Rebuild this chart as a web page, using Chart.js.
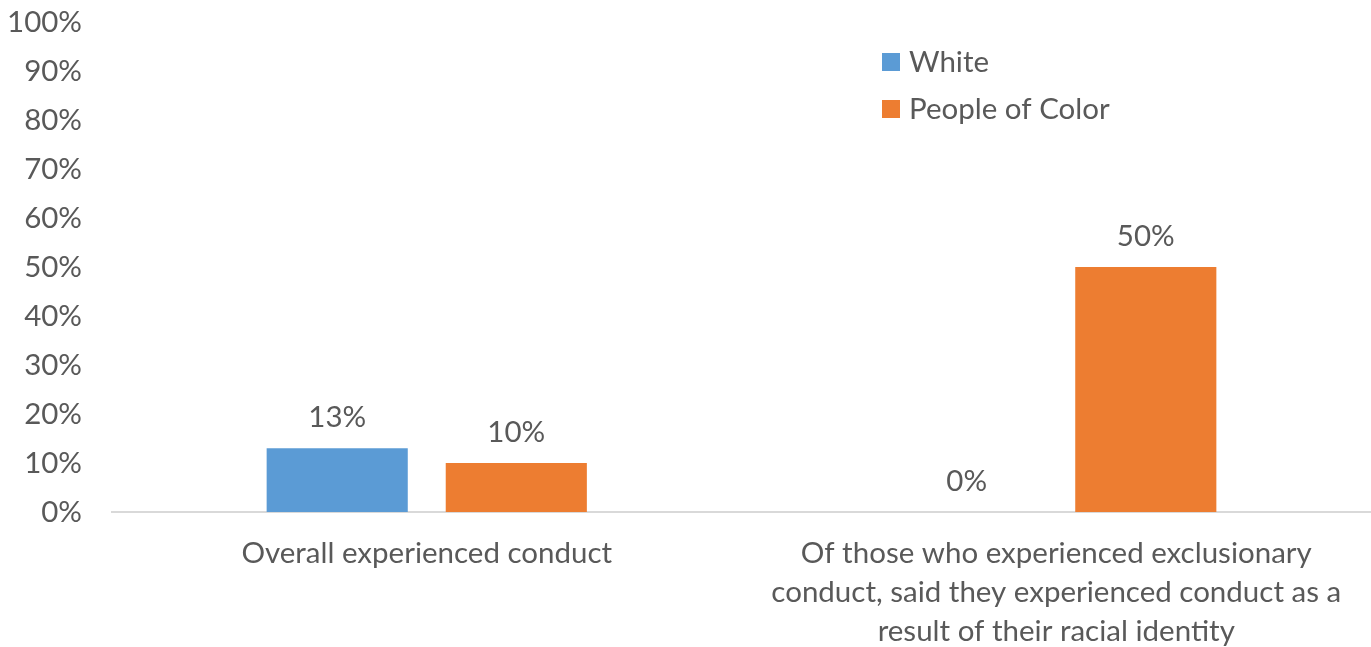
<!DOCTYPE html>
<html>
<head>
<meta charset="utf-8">
<script src="https://cdn.jsdelivr.net/npm/chart.js@4.4.1/dist/chart.umd.min.js"></script>
<style>
  html, body { margin: 0; padding: 0; background: #fff; }
  #wrap { width: 1371px; height: 647px; }
</style>
</head>
<body>
<div id="wrap"><canvas id="chart"></canvas></div>
<script>
const categories = [
    "Overall experienced conduct",
    ["Of those who experienced exclusionary", "conduct, said they experienced conduct as a", "result of their racial identity"]
];
const seriesNames = ["White", "People of Color"];
const whiteValues = [13, 0];
const colorValues = [10, 50];
const seriesColors = ["#5B9BD5", "#ED7D31"];
const yTicks = [0, 10, 20, 30, 40, 50, 60, 70, 80, 90, 100];

const FONT = "Lato, 'Liberation Sans', sans-serif";
const SIZE = 29.5;
const TEXT = "#595959";

// value labels above each bar
const barLabels = {
    id: "barLabels",
    afterDatasetsDraw(chart) {
        const ctx = chart.ctx;
        ctx.save();
        ctx.font = SIZE + "px " + FONT;
        ctx.fillStyle = TEXT;
        ctx.textAlign = "center";
        ctx.textBaseline = "middle";
        chart.data.datasets.forEach((ds, i) => {
            chart.getDatasetMeta(i).data.forEach((bar, j) => {
                ctx.fillText(ds.data[j] + "%", bar.x, bar.y - 31);
            });
        });
        ctx.restore();
    }
};

// stacked legend in the upper right of the plot
const sideLegend = {
    id: "sideLegend",
    afterDraw(chart) {
        const ctx = chart.ctx;
        ctx.save();
        ctx.font = SIZE + "px " + FONT;
        ctx.textBaseline = "middle";
        ctx.textAlign = "left";
        chart.data.datasets.forEach((ds, i) => {
            const y = 62 + i * 47;
            ctx.fillStyle = ds.backgroundColor;
            ctx.fillRect(882, y - 9, 18, 18);
            ctx.fillStyle = TEXT;
            ctx.fillText(ds.label, 909, y);
        });
        ctx.restore();
    }
};

new Chart(document.getElementById("chart"), {
    type: "bar",
    data: {
        labels: categories,
        datasets: [
            { label: seriesNames[0], data: whiteValues, backgroundColor: seriesColors[0] },
            { label: seriesNames[1], data: colorValues, backgroundColor: seriesColors[1] }
        ]
    },
    options: {
        responsive: true,
        maintainAspectRatio: false,
        animation: false,
        layout: { padding: 0 },
        datasets: {
            bar: { categoryPercentage: 0.569, barPercentage: 0.788 }
        },
        scales: {
            x: {
                grid: { display: false },
                border: { color: "#D9D9D9", width: 2 },
                ticks: {
                    color: TEXT,
                    font: { family: FONT, size: SIZE, lineHeight: 1.32 },
                    maxRotation: 0,
                    autoSkip: false,
                    padding: 14
                },
                afterFit(scale) { scale.height = 135; }
            },
            y: {
                min: 0,
                max: 100,
                afterBuildTicks(scale) { scale.ticks = yTicks.map(v => ({ value: v })); },
                grid: { display: false },
                border: { display: false },
                ticks: {
                    color: TEXT,
                    font: { family: FONT, size: SIZE },
                    padding: 22,
                    callback: v => v + "%"
                },
                afterFit(scale) {
                    scale.width = 112;
                    scale.paddingTop = 22;
                    scale.paddingBottom = 0;
                }
            }
        },
        plugins: {
            legend: { display: false },
            tooltip: { enabled: false }
        }
    },
    plugins: [barLabels, sideLegend]
});
</script>
</body>
</html>
